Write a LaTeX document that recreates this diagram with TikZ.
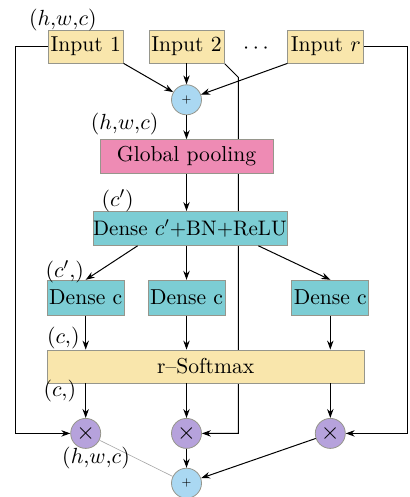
\documentclass[tikz,border=0pt]{standalone}
\usetikzlibrary{arrows.meta, positioning, calc, backgrounds}

\definecolor{inyellow}{RGB}{249,230,172}
\definecolor{poolpink}{RGB}{238,139,180}
\definecolor{denseteal}{RGB}{124,205,212}
\definecolor{addblue}{RGB}{170,216,242}
\definecolor{mulpurple}{RGB}{182,162,220}
\definecolor{edgegray}{RGB}{150,150,140}

\begin{document}
\begin{tikzpicture}[
	font=\fontsize{10.8}{12}\selectfont,
	box/.style={rectangle, draw=edgegray, line width=0.4pt, minimum height=16.5pt, inner sep=1pt, align=center},
	inbox/.style={box, fill=inyellow, minimum width=37.5pt},
	poolbox/.style={box, fill=poolpink, minimum width=86.5pt, minimum height=17pt},
	densebox/.style={box, fill=denseteal, minimum height=17pt},
	addnode/.style={circle, draw=edgegray, line width=0.4pt, fill=addblue, minimum size=15pt, inner sep=0pt, font=\tiny},
	mulnode/.style={circle, draw=edgegray, line width=0.4pt, fill=mulpurple, minimum size=15pt, inner sep=0pt, font=\large},
	dim/.style={inner sep=1pt, text=black},
	arrow/.style={-{Stealth[length=4.5pt, width=3.2pt]}, line width=0.5pt},
	node distance=10pt and 12pt
]
	\useasboundingbox (0,0) rectangle (204.5pt,-248.5pt);

	% inputs
	\node[inbox] (in2) at (93.25pt,-23.25pt) {Input 2};
	\node[inbox, left=12.5pt of in2] (in1) {Input 1};
	\node[inbox, right=31.5pt of in2, minimum width=38pt] (inr) {Input $r$};
	\node (dots) at ($(in2.east)!0.5!(inr.west)+(0,-1pt)$) {$\cdots$};
	\node[addnode, below=10.5pt of in2] (sum) {$+$};

	% squeeze and attention branches
	\node[poolbox, below=12pt of sum] (pool) {Global pooling};
	\node[densebox, below=18.5pt of pool, xshift=1.75pt, minimum width=97pt, inner xsep=0pt, font=\fontsize{10.5}{12}\selectfont] (fc) {Dense $c'$+BN+ReLU};
	\node[densebox, below=17pt of fc, xshift=-1.75pt, minimum width=38.5pt, minimum height=17.5pt] (fcm) {Dense c};
	\node[densebox, left=11.5pt of fcm, minimum width=38.5pt, minimum height=17.5pt] (fcl) {Dense c};
	\node[densebox, right=33pt of fcm, minimum width=38.5pt, minimum height=17.5pt] (fcr) {Dense c};
	\node[box, fill=inyellow, below=17pt of fcl.south west, anchor=north west, minimum width=158.5pt] (soft) {r--Softmax};

	% weighting and sum
	\node[mulnode] (mull) at ($(fcl |- soft.south)+(0,-25pt)$) {$\times$};
	\node[mulnode] (mulm) at ($(fcm |- soft.south)+(0,-25pt)$) {$\times$};
	\node[mulnode] (mulr) at ($(fcr |- soft.south)+(0,-25pt)$) {$\times$};
	\node[addnode, below=9.5pt of mulm] (out) {$+$};

	% shapes
	\node[dim] (dimin) at ($(in1.north west)+(7.5pt,5pt)$) {$(h{,}w{,}c)$};
	\node[dim] (dimpool) at ($(pool.north west)+(12.5pt,7.5pt)$) {$(h{,}w{,}c)$};
	\node[dim] (dimfc) at ($(fc.north west)+(12.5pt,5pt)$) {$(c')$};
	\node[dim] (dimfcl) at ($(fcl.north west)+(9pt,4pt)$) {$(c'{,})$};
	\node[dim] (dimsoft) at ($(soft.north west)+(8.25pt,6pt)$) {$(c{,})$};
	\node[dim] (dimmul) at ($(soft.south west)+(6.5pt,-3.75pt)$) {$(c{,})$};

	% input 2 runs behind the boxes
	\begin{pgfonlayer}{background}
		\draw[arrow] (in2.south east) -- ++(7pt,-7pt) |- (mulm);
	\end{pgfonlayer}

	\draw[arrow] (in1.south east) -- (sum);
	\draw[arrow] (in2) -- (sum);
	\draw[arrow] (inr.south west) -- (sum);
	\draw[arrow] (sum) -- (pool);
	\draw[arrow] (pool.south) -- (pool.south |- fc.north);
	\draw[arrow] ($(fc.south west)+(22.5pt,0)$) -- (fcl.north);
	\draw[arrow] (fcm |- fc.south) -- (fcm);
	\draw[arrow] ($(fc.south east)+(-14.5pt,0)$) -- (fcr.north);
	\draw[arrow] (fcl) -- (fcl |- soft.north);
	\draw[arrow] (fcm) -- (fcm |- soft.north);
	\draw[arrow] (fcr) -- (fcr |- soft.north);
	\draw[arrow] (soft.south -| mull) -- (mull);
	\draw[arrow] (soft.south -| mulm) -- (mulm);
	\draw[arrow] (soft.south -| mulr) -- (mulr);
	\draw[arrow] (in1.west) -- ++(-16pt,0) |- (mull);
	\draw[arrow] (inr.east) -- ++(21.5pt,0) |- (mulr);
	\draw[gray!70, line width=0.3pt] (mull) -- node[dim, left=2pt] (dimout) {$(h{,}w{,}c)$} (out);
	\draw[arrow] (mulm) -- (out);
	\draw[arrow] (mulr) -- (out);
\end{tikzpicture}
\end{document}
